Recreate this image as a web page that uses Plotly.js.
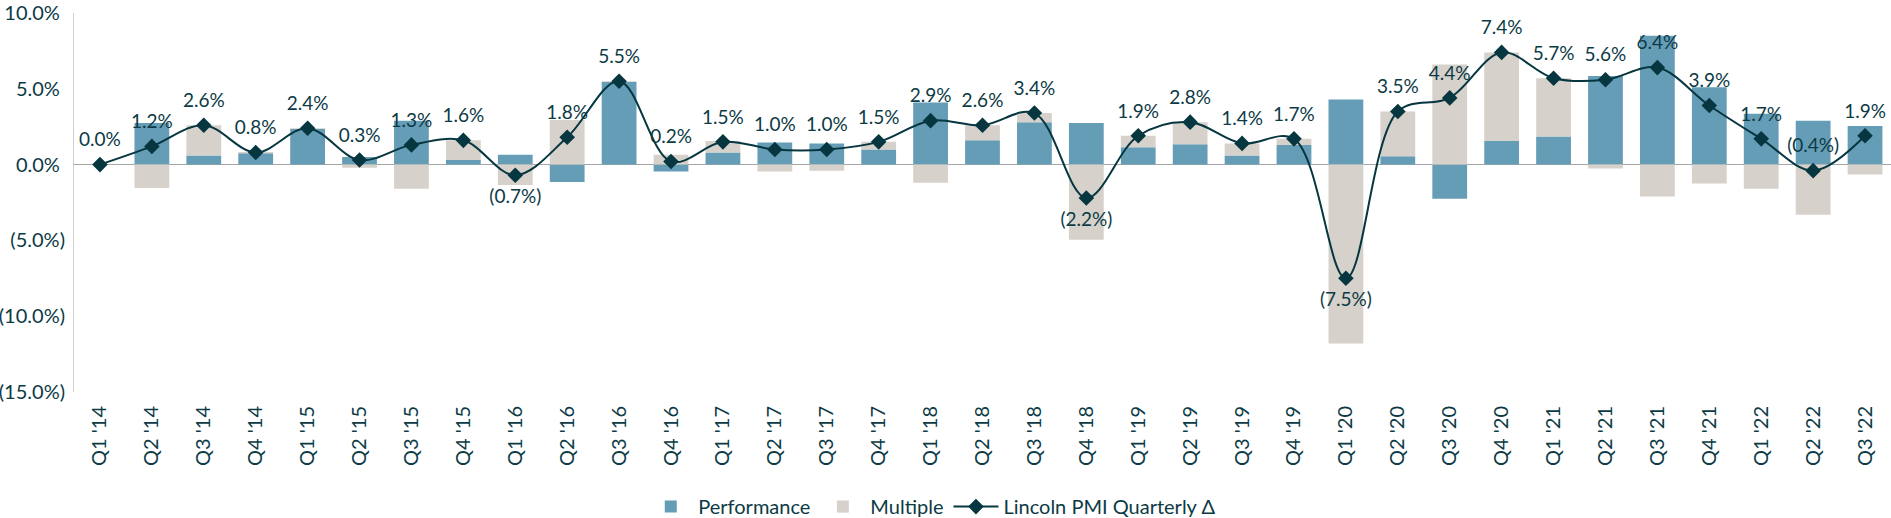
<!DOCTYPE html>
<html>
<head>
<meta charset="utf-8">
<script src="https://cdn.plot.ly/plotly-3.0.1.min.js"></script>
<style>html,body{margin:0;padding:0;background:#fff;}#chart{width:1891px;height:518px;}</style>
</head>
<body>
<div id="chart"></div>
<script>
const quarters = ["Q1 '14","Q2 '14","Q3 '14","Q4 '14","Q1 '15","Q2 '15","Q3 '15","Q4 '15","Q1 '16","Q2 '16","Q3 '16","Q4 '16","Q1 '17","Q2 '17","Q3 '17","Q4 '17","Q1 '18","Q2 '18","Q3 '18","Q4 '18","Q1 '19","Q2 '19","Q3 '19","Q4 '19","Q1 '20","Q2 '20","Q3 '20","Q4 '20","Q1 '21","Q2 '21","Q3 '21","Q4 '21","Q1 '22","Q2 '22","Q3 '22"];
const performance = [0, 2.75, 0.6, 0.75, 2.35, 0.5, 2.9, 0.3, 0.65, -1.15, 5.45, -0.45, 0.8, 1.45, 1.4, 1.0, 4.1, 1.6, 2.8, 2.75, 1.15, 1.35, 0.6, 1.3, 4.3, 0.55, -2.25, 1.55, 1.85, 5.85, 8.5, 5.1, 3.35, 2.9, 2.55];
const multiple = [0, -1.55, 2.0, 0.08, 0.05, -0.2, -1.6, 1.3, -1.35, 2.95, 0.05, 0.65, 0.75, -0.45, -0.4, 0.5, -1.2, 1.0, 0.6, -4.95, 0.75, 1.45, 0.8, 0.4, -11.8, 2.95, 6.6, 5.85, 3.85, -0.25, -2.1, -1.25, -1.6, -3.3, -0.65];
const pmiDelta = [0.0, 1.2, 2.6, 0.8, 2.4, 0.3, 1.3, 1.6, -0.7, 1.8, 5.5, 0.2, 1.5, 1.0, 1.0, 1.5, 2.9, 2.6, 3.4, -2.2, 1.9, 2.8, 1.4, 1.7, -7.5, 3.5, 4.4, 7.4, 5.7, 5.6, 6.4, 3.9, 1.7, -0.4, 1.9];
const labelBelow = ["Q1 '16", "Q4 '18", "Q1 '20"];
const yTickVals = [-15, -10, -5, 0, 5, 10];
const yTickText = ["(15.0%)", "(10.0%)", "(5.0%)", "0.0%\u00a0", "5.0%\u00a0", "10.0%\u00a0"];

const fmt = v => v < 0 ? "(" + Math.abs(v).toFixed(1) + "%)" : v.toFixed(1) + "%";
const ink = "#0c3a45";
const fontFam = "Lato, 'Open Sans', sans-serif";

const traces = [
  {type: "bar", name: "Performance", x: quarters, y: performance,
   marker: {color: "#669db6"}, hoverinfo: "skip"},
  {type: "bar", name: "Multiple", x: quarters, y: multiple,
   marker: {color: "#d6d1cb"}, hoverinfo: "skip"},
  {type: "scatter", mode: "lines+markers", name: "Lincoln PMI Quarterly \u0394",
   x: quarters, y: pmiDelta,
   line: {color: "#063640", width: 2, shape: "spline", smoothing: 1},
   marker: {symbol: "diamond", size: 12, color: "#063640"},
   cliponaxis: false, hoverinfo: "skip"},
  {type: "scatter", mode: "markers+text", name: "labels", showlegend: false,
   x: quarters, y: pmiDelta,
   text: pmiDelta.map(fmt),
   textposition: quarters.map(q => labelBelow.includes(q) ? "bottom center" : "top center"),
   textfont: {family: fontFam, size: 19, color: ink},
   marker: {size: 20, color: "rgba(0,0,0,0)"},
   cliponaxis: false, hoverinfo: "skip"}
];

const layout = {
  width: 1891, height: 518,
  margin: {l: 74, r: 0, t: 13, b: 126},
  barmode: "relative",
  bargap: 0.33,
  paper_bgcolor: "#fff", plot_bgcolor: "#fff",
  font: {family: fontFam, size: 20, color: ink},
  showlegend: true,
  legend: {orientation: "h", xref: "container", yref: "container",
           x: 0.493, xanchor: "center", y: 0.022, yanchor: "middle",
           itemwidth: 45,
           font: {family: fontFam, size: 20, color: ink}, traceorder: "normal"},
  xaxis: {type: "category", range: [-0.5, 34.5], autorange: false, tickangle: -90,
          showgrid: false, zeroline: false, ticklabelstandoff: 9, automargin: false,
          showline: false, ticks: "", tickfont: {family: fontFam, size: 20, color: ink}},
  yaxis: {range: [-15, 10], autorange: false, tickvals: yTickVals, ticktext: yTickText,
          showgrid: false, zeroline: true, zerolinecolor: "#a6a6a6", zerolinewidth: 1,
          showline: true, linecolor: "#cfcfcf", linewidth: 1, ticks: "", automargin: false,
          ticklabelstandoff: 4, ticklabeloverflow: "allow",
          tickfont: {family: fontFam, size: 20, color: ink}},
  hovermode: false
};

Plotly.newPlot("chart", traces, layout, {displayModeBar: false, staticPlot: true});
</script>
</body>
</html>
